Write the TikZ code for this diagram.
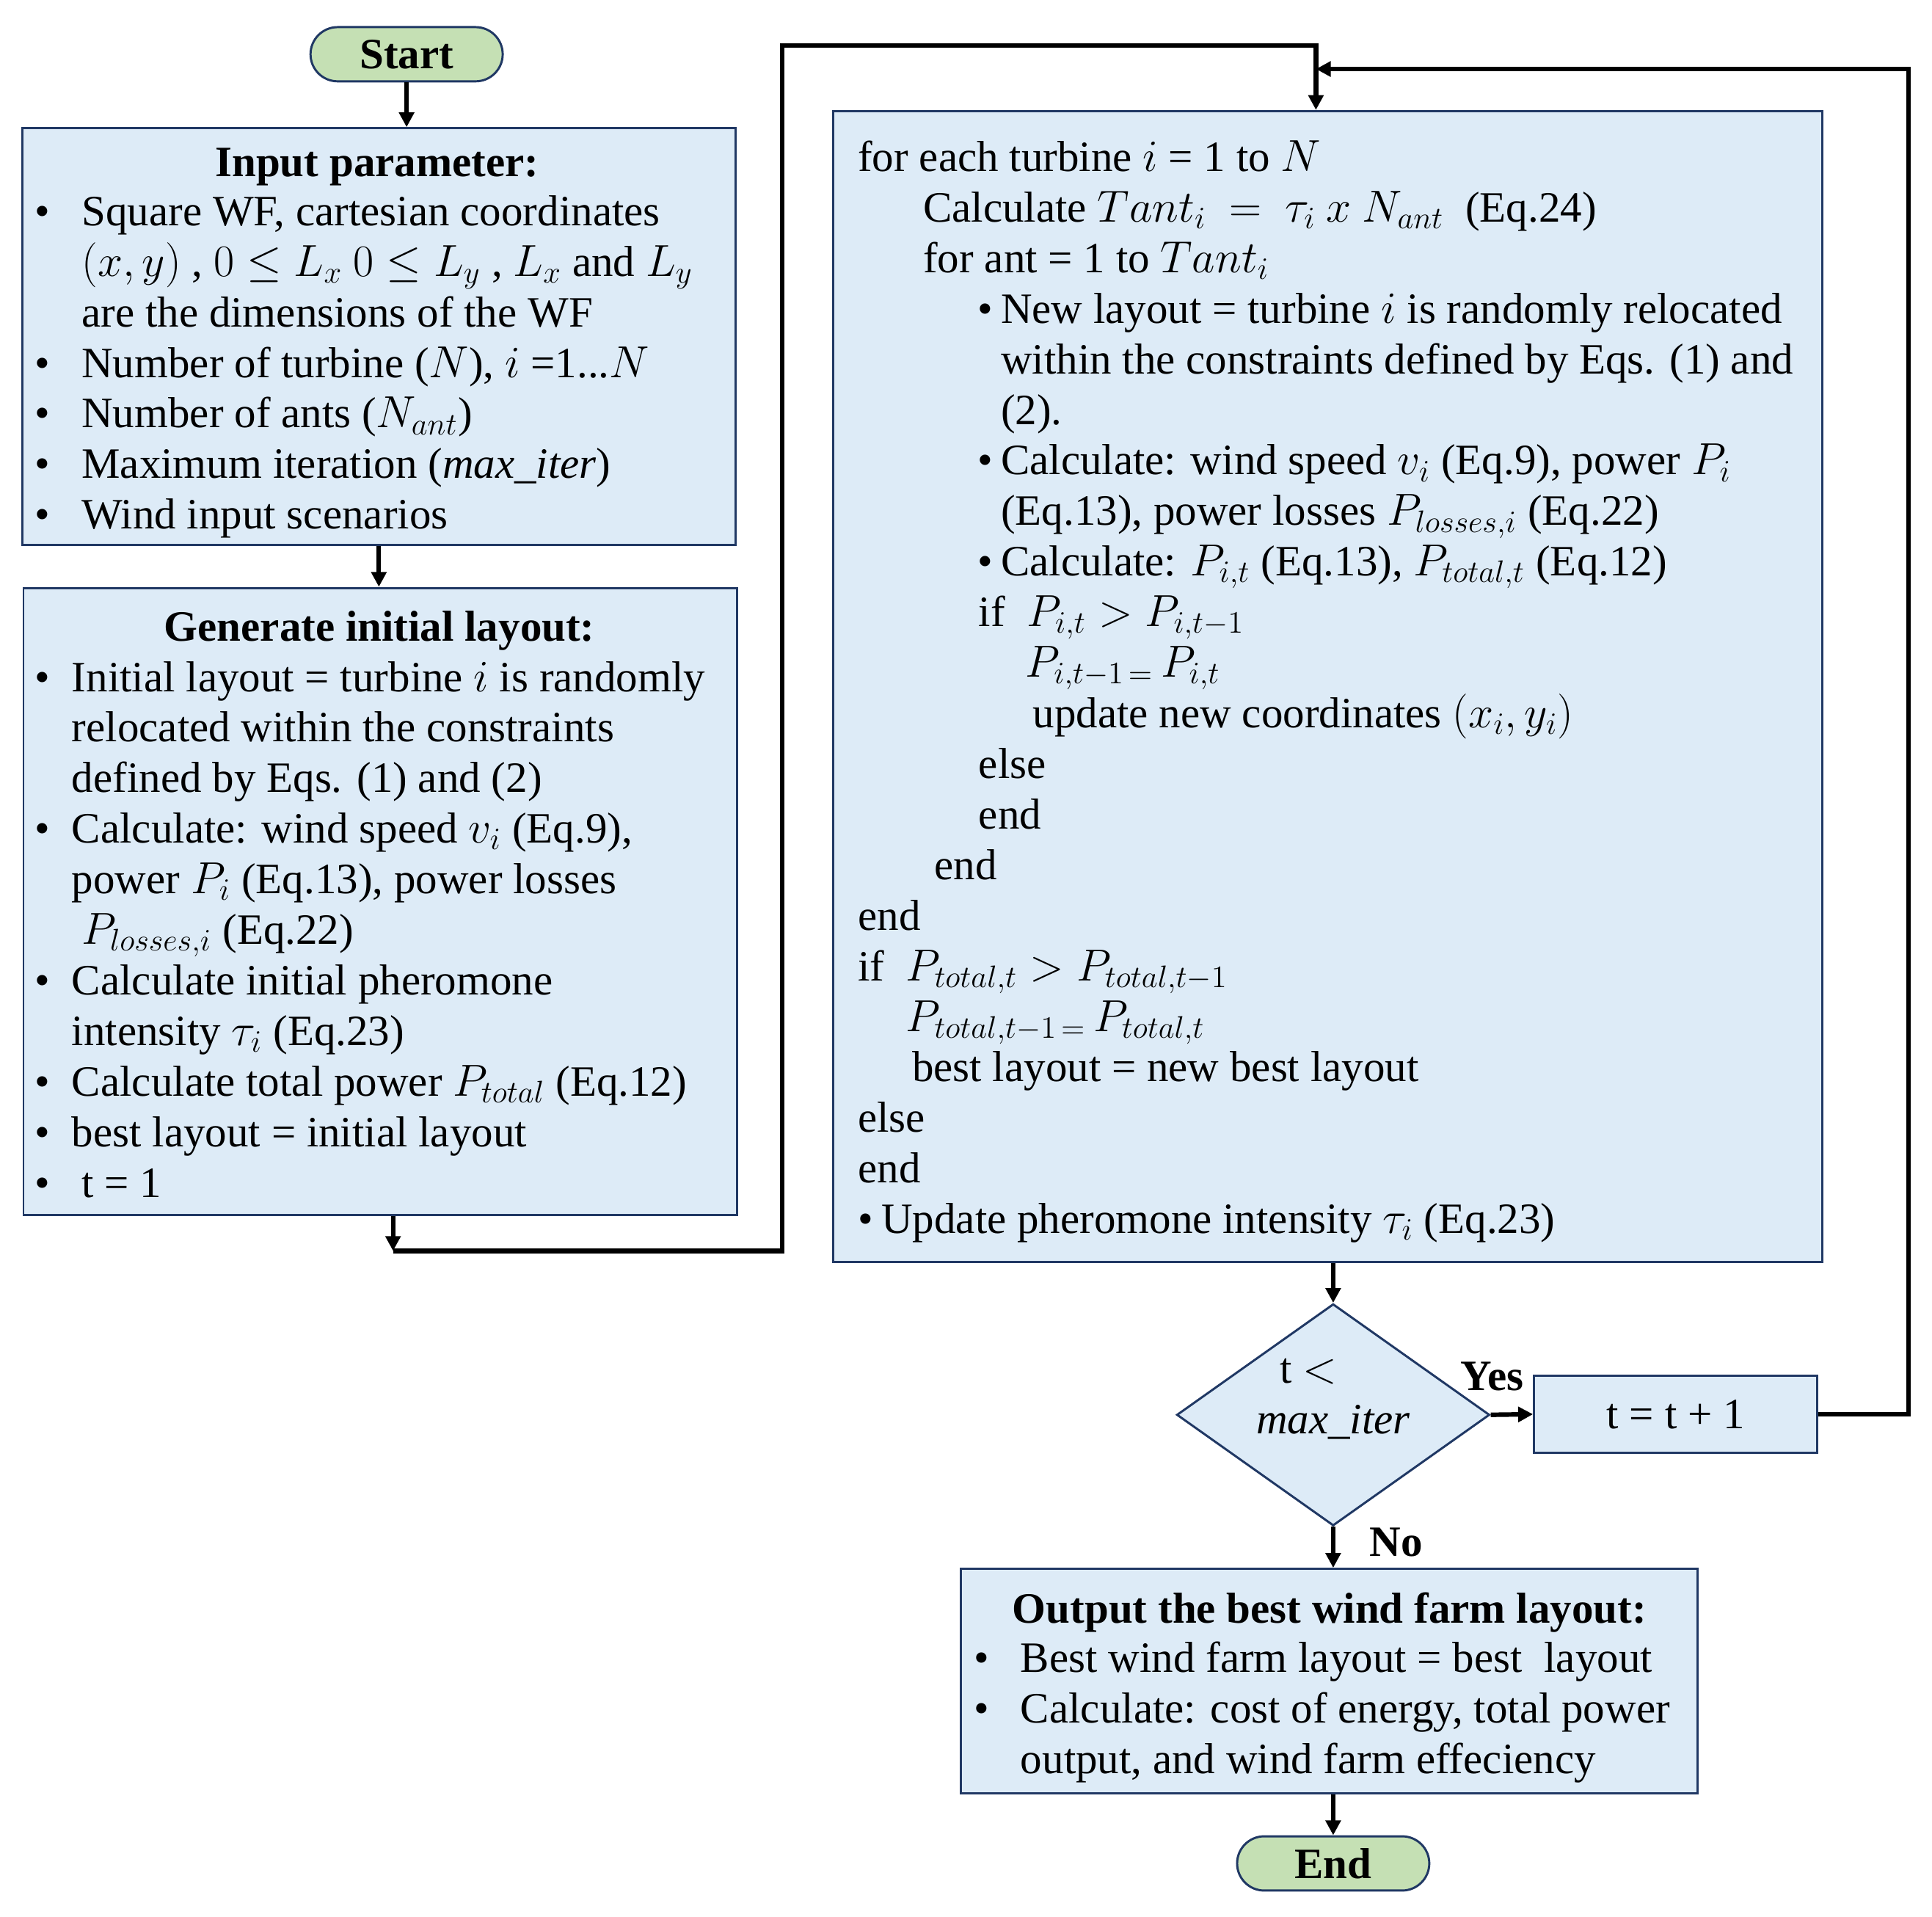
\documentclass[tikz,border=0pt]{standalone}
\usepackage{amsmath,amssymb}
\usepackage{fontspec}
\setmainfont{Liberation Serif}
\usetikzlibrary{arrows.meta,shapes.geometric,shapes.misc}
\definecolor{flowblue}{RGB}{221,235,247}
\definecolor{flowedge}{RGB}{32,56,100}
\definecolor{flowgreen}{RGB}{197,224,180}
\newlength\pxu
\setlength\pxu{0.02cm}
\newcommand\fsz{\fontsize{20}{23.36}\selectfont}
\newcommand\bull[1]{\makebox[#1\pxu][l]{\textbullet}}

\begin{document}
\begin{tikzpicture}[x=0.02cm,y=-0.02cm,>={Triangle[length=0.24cm,width=0.24cm]},
 box/.style={draw=flowedge,fill=flowblue,line width=1pt,inner sep=0pt,font=\fsz},
 term/.style={rounded rectangle,draw=flowedge,fill=flowgreen,line width=1pt,
   minimum width=3.12cm,minimum height=0.88cm,inner sep=0pt,font=\bfseries\fsz},
 flow/.style={line width=2.1pt},
 txt/.style={anchor=base west,inner sep=0pt,font=\fsz},
 ttl/.style={anchor=base,inner sep=0pt,font=\bfseries\fsz}]
 \path[use as bounding box,fill=white] (0,0) rectangle (1568,1555);
 % left column
 \node[term] (start) at (330,44) {Start};
 \node[box,minimum width=11.58cm,minimum height=6.76cm] (inp) at (307.5,273) {};
 \node[ttl] (inpttl) at (306,143) {Input parameter:};
 \node[txt] (inptxt) at (28,183) {\begin{tabular}[t]{@{}l@{}}
   \bull{38}Square WF, cartesian coordinates\\
   \hspace*{38\pxu}$(x,y)$ , $0\leq L_x$ $0\leq L_y$ , $L_x$ and $L_y$\\
   \hspace*{38\pxu}are the dimensions of the WF\\
   \bull{38}Number of turbine ($N$), $i$ =1...$N$\\
   \bull{38}Number of ants ($N_{ant}$)\\
   \bull{38}Maximum iteration ($\mathit{max\_iter}$)\\
   \bull{38}Wind input scenarios
 \end{tabular}};
 \node[box,minimum width=11.58cm,minimum height=10.18cm] (gen) at (308.5,731.5) {};
 \node[ttl] (genttl) at (308,520) {Generate initial layout:};
 \node[txt] (gentxt) at (28,561) {\begin{tabular}[t]{@{}l@{}}
   \bull{30}Initial layout = turbine $i$ is randomly\\
   \hspace*{30\pxu}relocated within the constraints\\
   \hspace*{30\pxu}defined by Eqs. (1) and (2)\\
   \bull{30}Calculate: wind speed $v_i$ (Eq.9),\\
   \hspace*{30\pxu}power $P_i$ (Eq.13), power losses\\
   \hspace*{38\pxu}$P_{losses,i}$ (Eq.22)\\
   \bull{30}Calculate initial pheromone\\
   \hspace*{30\pxu}intensity $\tau_i$ (Eq.23)\\
   \bull{30}Calculate total power $P_{total}$ (Eq.12)\\
   \bull{30}best layout = initial layout\\
   \bull{30}\hspace*{8\pxu}t = 1
 \end{tabular}};
 % main loop
 \node[box,minimum width=16.06cm,minimum height=18.68cm] (main) at (1077.5,557) {};
 \node[txt] (maintxt) at (696,139) {\begin{tabular}[t]{@{}l@{}}
   for each turbine $i$ = 1 to $N$\\
   \hspace*{53\pxu}Calculate $Tant_i\ =\ \tau_i\ x\ N_{ant}$\ \ (Eq.24)\\
   \hspace*{53\pxu}for ant = 1 to $Tant_i$\\
   \hspace*{97\pxu}\bull{19}New layout = turbine $i$ is randomly relocated\\
   \hspace*{116\pxu}within the constraints defined by Eqs. (1) and\\
   \hspace*{116\pxu}(2).\\
   \hspace*{97\pxu}\bull{19}Calculate: wind speed $v_i$ (Eq.9), power $P_i$\\
   \hspace*{116\pxu}(Eq.13), power losses $P_{losses,i}$ (Eq.22)\\
   \hspace*{97\pxu}\bull{19}Calculate: $P_{i,t}$ (Eq.13), $P_{total,t}$ (Eq.12)\\
   \hspace*{98\pxu}if\ \ $P_{i,t} > P_{i,t-1}$\\
   \hspace*{136\pxu}$P_{i,t-1\,=}\,P_{i,t}$\\
   \hspace*{142\pxu}update new coordinates $(x_i, y_i)$\\
   \hspace*{98\pxu}else\\
   \hspace*{98\pxu}end\\
   \hspace*{62\pxu}end\\
   end\\
   if\ \ $P_{total,t} > P_{total,t-1}$\\
   \hspace*{39\pxu}$P_{total,t-1\,=}\,P_{total,t}$\\
   \hspace*{44\pxu}best layout = new best layout\\
   else\\
   end\\
   \bull{19}Update pheromone intensity $\tau_i$ (Eq.23)
 \end{tabular}};
 % decision and output
 \node[box,diamond,minimum width=5.08cm,minimum height=3.6cm] (dec) at (1082,1148) {};
 \node[anchor=base,inner sep=0pt,font=\fsz] (dectxt) at (1082,1122) {\begin{tabular}[t]{@{}c@{}}
   t $<$\hspace*{40\pxu}\\ $\mathit{max\_iter}$\end{tabular}};
 \node[box,minimum width=4.6cm,minimum height=1.26cm] (tinc) at (1360,1147.5) {t = t + 1};
 \node[ttl] (yes) at (1211,1128) {Yes};
 \node[ttl] (no) at (1133,1263) {No};
 \node[box,minimum width=11.96cm,minimum height=3.64cm] (out) at (1079,1364) {};
 \node[ttl] (outttl) at (1079,1317) {Output the best wind farm layout:};
 \node[txt] (outtxt) at (790,1357) {\begin{tabular}[t]{@{}l@{}}
   \bull{38}Best wind farm layout = best\ \ layout\\
   \bull{38}Calculate: cost of energy, total power\\
   \hspace*{38\pxu}output, and wind farm effeciency
 \end{tabular}};
 \node[term] (fin) at (1082,1512) {End};
 % connectors
 \coordinate (c1) at (319,1015);
 \coordinate (c2) at (635,37);
 \coordinate (c3) at (1068,37);
 \coordinate (c4) at (1549,56);
 \draw[flow,->] (start.south) -- (start.south |- inp.north);
 \draw[flow,->] (inp.south) -- (inp.south |- gen.north);
 \draw[flow,->] (c1 |- gen.south) -- (c1);
 \draw[flow,->] (c1) -| (c2) -- (c3) -- (c3 |- main.north);
 \draw[flow,->] (dec.north |- main.south) -- (dec.north);
 \draw[flow,->] (dec.east) -- (tinc.west);
 \draw[flow,->] (tinc.east) -| (c4) -- (c3 |- c4);
 \draw[flow,->] (dec.south) -- (dec.south |- out.north);
 \draw[flow,->] (fin.north |- out.south) -- (fin.north);
\end{tikzpicture}
\end{document}
